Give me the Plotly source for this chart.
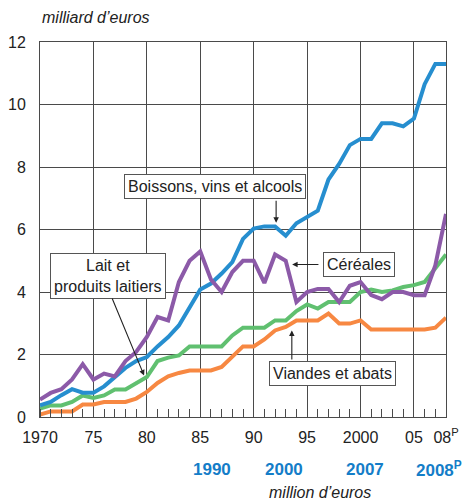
import plotly.graph_objects as go

years = list(range(1970, 2009))

# milliard d'euros
boissons = [0.37, 0.48, 0.70, 0.89, 0.78, 0.78, 0.98, 1.28, 1.57, 1.79,
            1.92, 2.26, 2.56, 2.93, 3.52, 4.08, 4.27, 4.59, 4.96, 5.70,
            6.03, 6.10, 6.10, 5.80, 6.20, 6.40, 6.60, 7.60, 8.10, 8.70,
            8.90, 8.90, 9.40, 9.40, 9.30, 9.55, 10.65, 11.30, 11.30]
cereales = [0.56, 0.77, 0.89, 1.20, 1.69, 1.20, 1.39, 1.30, 1.79, 2.08,
            2.56, 3.20, 3.09, 4.32, 5.00, 5.30, 4.40, 4.00, 4.64, 5.00,
            5.00, 4.29, 5.20, 5.00, 3.68, 4.00, 4.10, 4.10, 3.68, 4.20,
            4.32, 3.90, 3.77, 4.00, 4.00, 3.90, 3.90, 4.85, 6.50]
lait = [0.27, 0.37, 0.37, 0.48, 0.69, 0.61, 0.69, 0.88, 0.88, 1.07,
        1.28, 1.79, 1.90, 1.97, 2.26, 2.26, 2.26, 2.26, 2.61, 2.86,
        2.86, 2.86, 3.09, 3.09, 3.39, 3.60, 3.47, 3.68, 3.68, 3.68,
        4.00, 4.08, 4.00, 4.05, 4.16, 4.22, 4.32, 4.75, 5.20]
viandes = [0.08, 0.18, 0.18, 0.18, 0.40, 0.40, 0.48, 0.48, 0.48, 0.59,
           0.80, 1.09, 1.30, 1.41, 1.49, 1.49, 1.49, 1.60, 1.92, 2.26,
           2.26, 2.48, 2.77, 2.88, 3.09, 3.09, 3.09, 3.31, 2.99, 2.99,
           3.09, 2.80, 2.80, 2.80, 2.80, 2.80, 2.80, 2.86, 3.18]

tick_years = [1970, 1975, 1980, 1985, 1990, 1995, 2000, 2005, 2008]
tick_text = ["1970", "75", "80", "85", "90", "95", "2000", "05", "08<sup>P</sup>"]

# second row of labels (million d'euros scale)
blue_labels = ["1990", "2000", "2007", "2008<sup>P</sup>"]
blue_label_x = [1986.1, 1992.8, 2000.4, 2007.3]

BLUE = "rgb(38,142,207)"
PURPLE = "rgb(140,90,168)"
GREEN = "rgb(96,192,112)"
ORANGE = "rgb(247,136,66)"
GRID = "#4a4a4a"
FONT = "Liberation Sans, Arial, sans-serif"

fig = go.Figure()
fig.add_trace(go.Scatter(x=years, y=viandes, mode="lines", line=dict(color=ORANGE, width=4)))
fig.add_trace(go.Scatter(x=years, y=lait, mode="lines", line=dict(color=GREEN, width=4)))
fig.add_trace(go.Scatter(x=years, y=boissons, mode="lines", line=dict(color=BLUE, width=4)))
fig.add_trace(go.Scatter(x=years, y=cereales, mode="lines", line=dict(color=PURPLE, width=4)))

# page body has an 8px margin, so the figure is 8px smaller on each axis
fig.update_layout(
    width=465, height=494,
    margin=dict(l=32, r=27, t=34, b=85),
    plot_bgcolor="white", paper_bgcolor="white",
    showlegend=False,
    font=dict(family=FONT, size=16, color="#222"),
)
fig.update_xaxes(range=[1970, 2008], tickmode="array", tickvals=tick_years, ticktext=tick_text,
                 showgrid=True, gridcolor=GRID, gridwidth=1, zeroline=False,
                 showline=True, linecolor=GRID, linewidth=1, mirror=True,
                 ticks="", ticklabelstandoff=6, automargin=False,
                 minor=dict(tickvals=years, ticks="inside", ticklen=8, tickcolor=GRID, tickwidth=1, showgrid=False))
fig.update_yaxes(range=[0, 12], tickvals=[0, 2, 4, 6, 8, 10, 12],
                 showgrid=True, gridcolor=GRID, gridwidth=1, zeroline=False,
                 showline=True, linecolor=GRID, linewidth=1, mirror=True,
                 ticks="", ticklabelstandoff=10, automargin=False)

box = dict(showarrow=False, bgcolor="white", bordercolor="#555", borderwidth=1, borderpad=3,
           font=dict(family=FONT, size=16, color="#222"))

fig.add_annotation(x=1986.4, y=7.38, text="Boissons, vins et alcools", **box)
fig.add_annotation(x=1999.9, y=4.88, text="Céréales", **box)
fig.add_annotation(x=1997.4, y=1.38, text="Viandes et abats", **box)
fig.add_annotation(x=1976.4, y=4.52, text="Lait et<br>produits laitiers", **box)

arrow = dict(text="", showarrow=True, arrowhead=2, arrowsize=1, arrowwidth=1.1,
             arrowcolor="#222", axref="x", ayref="y")
fig.add_annotation(x=1992.1, y=6.22, ax=1992.1, ay=6.97, **arrow)
fig.add_annotation(x=1993.6, y=4.88, ax=1996.2, ay=4.88, **arrow)
fig.add_annotation(x=1993.57, y=2.77, ax=1993.57, ay=1.79, **arrow)
fig.add_annotation(x=1979.74, y=1.33, ax=1976.7, ay=3.84, **arrow)

fig.add_annotation(xref="paper", yref="paper", x=0, y=1.064, xanchor="left", yanchor="middle",
                   text="<i>milliard d’euros</i>", showarrow=False,
                   font=dict(family=FONT, size=16, color="#222"))
fig.add_annotation(xref="paper", yref="paper", x=0.69, y=-0.2, xanchor="center", yanchor="middle",
                   text="<i>million d’euros</i>", showarrow=False,
                   font=dict(family=FONT, size=16, color="#222"))

for lbl, xv in zip(blue_labels, blue_label_x):
    fig.add_annotation(xref="x", yref="paper", x=xv, y=-0.139, xanchor="center", yanchor="middle",
                       text="<b>" + lbl + "</b>", showarrow=False,
                       font=dict(family=FONT, size=17, color="rgb(20,125,200)"))

fig.write_html("out.html")
